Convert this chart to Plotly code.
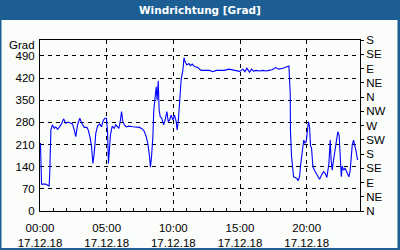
import plotly.graph_objects as go
from datetime import datetime, timedelta

# minutes after midnight, 17.12.18
minutes = [2, 4, 7, 26, 41, 44, 49, 56, 64, 71, 79, 86, 97, 106, 116, 127, 139, 146, 154, 161,
           169, 179, 188, 199, 211, 217, 226, 232, 238, 244, 251, 259, 269, 277, 284, 292, 299, 304, 308, 313,
           317, 325, 334, 341, 349, 355, 361, 367, 373, 380, 388, 400, 418, 433, 448, 463, 470, 478, 485, 493,
           497, 502, 508, 512, 518, 523, 527, 532, 536, 541, 548, 556, 563, 571, 577, 583, 590, 598, 605, 613,
           617, 622, 628, 635, 643, 648, 653, 661, 670, 677, 685, 695, 710, 725, 748, 763, 778, 793, 808, 830,
           850, 868, 883, 898, 913, 922, 931, 943, 952, 961, 973, 988, 1003, 1018, 1030, 1045, 1060, 1075, 1093, 1108,
           1120, 1126, 1127, 1132, 1135, 1141, 1150, 1156, 1162, 1168, 1172, 1177, 1183, 1187, 1192, 1198, 1202, 1208, 1213, 1217,
           1222, 1228, 1235, 1246, 1258, 1267, 1276, 1283, 1291, 1300, 1306, 1310, 1315, 1321, 1327, 1333, 1340, 1346, 1351, 1356,
           1360, 1366, 1373, 1382, 1390, 1396, 1401, 1405, 1411, 1417, 1423, 1429]
direction = [215, 127, 85, 85, 78, 121, 256, 272, 261, 266, 258, 264, 275, 291, 277, 281, 277, 275, 256, 235,
             272, 293, 277, 264, 264, 256, 230, 203, 150, 182, 245, 268, 275, 266, 285, 293, 293, 250, 150, 187,
             240, 268, 261, 272, 264, 261, 282, 314, 282, 272, 266, 268, 266, 266, 264, 258, 250, 235, 214, 172,
             138, 172, 235, 319, 372, 392, 350, 411, 319, 298, 293, 272, 287, 314, 282, 287, 303, 287, 303, 282,
             256, 282, 340, 414, 445, 484, 471, 461, 466, 459, 464, 456, 453, 444, 444, 444, 440, 444, 444, 444,
             448, 446, 444, 441, 448, 440, 451, 438, 448, 442, 444, 442, 444, 442, 444, 446, 453, 448, 451, 456,
             458, 372, 256, 172, 140, 108, 105, 103, 96, 108, 140, 177, 203, 224, 214, 219, 240, 282, 266, 208,
             198, 140, 129, 117, 100, 114, 124, 119, 106, 150, 224, 161, 129, 161, 193, 230, 250, 240, 182, 108,
             142, 129, 135, 119, 108, 129, 172, 208, 224, 208, 187, 161]

left_ticks = [0, 70, 140, 210, 280, 350, 420, 490]
right_ticks = [0, 45, 90, 135, 180, 225, 270, 315, 360, 405, 450, 495, 540]
right_labels = ["N", "NE", "E", "SE", "S", "SW", "W", "NW", "N", "NE", "E", "SE", "S"]
x_tick_hours = [0, 5, 10, 15, 20]
x_tick_labels = ["00:00<br>17.12.18", "05:00<br>17.12.18", "10:00<br>17.12.18",
                 "15:00<br>17.12.18", "20:00<br>17.12.18"]

base = datetime(2018, 12, 17)
times = [base + timedelta(minutes=m) for m in minutes]

BLUE = "#1d5f94"
BG = "#fbfdfb"
FONT = "Liberation Sans"

fig = go.Figure()
fig.add_trace(go.Scatter(x=times, y=direction, mode="lines",
                         line=dict(color="#0000ff", width=1.1), showlegend=False))
# invisible trace for right axis
fig.add_trace(go.Scatter(x=[times[0]], y=[0], yaxis="y2", mode="lines",
                         line=dict(width=0), showlegend=False, hoverinfo="skip"))

L, R, T, B = 40.5, 360.5, 40, 211
W, H = 400, 250
pw, ph = R - L, B - T

fig.add_shape(type="rect", xref="paper", yref="paper", layer="below",
              x0=(2 - L) / pw, x1=(398 - L) / pw,
              y0=(B - 248) / ph, y1=(B - 20) / ph,
              fillcolor=BG, line=dict(width=0))
fig.add_shape(type="rect", xref="paper", yref="paper", layer="below",
              x0=(0 - L) / pw, x1=(400 - L) / pw,
              y0=(B - 20) / ph, y1=(B - 0) / ph,
              fillcolor=BLUE, line=dict(width=0))

fig.add_annotation(text="<b>Windrichtung [Grad]</b>", xref="paper", yref="paper",
                   x=(200 - L) / pw, y=(B - 10.5) / ph, showarrow=False,
                   font=dict(family="DejaVu Sans", size=10.5, color="white"),
                   xanchor="center", yanchor="middle")
fig.add_annotation(text="Grad", xref="paper", yref="paper",
                   x=(37 - L) / pw, y=(B - 45) / ph, showarrow=False,
                   font=dict(family=FONT, size=11.5, color="black"),
                   xanchor="right", yanchor="middle")

fig.update_layout(
    width=W, height=H,
    margin=dict(l=40, r=40, t=T, b=H - B, pad=0, autoexpand=False),
    paper_bgcolor=BLUE, plot_bgcolor=BG,
    font=dict(family=FONT, size=11.5, color="black"),
    xaxis=dict(
        type="date", automargin=False,
        range=[base, base + timedelta(hours=24)],
        tickvals=[base + timedelta(hours=h) for h in x_tick_hours],
        ticktext=x_tick_labels,
        ticks="inside", ticklen=3, tickcolor="black",
        minor=dict(dtick=3600000, ticks="inside", ticklen=3, tickcolor="black", showgrid=False),
        showgrid=True, gridcolor="black", griddash="4px,4px", gridwidth=1,
        showline=True, linecolor="black", linewidth=1, mirror=True,
        zeroline=False, tickangle=0, ticklabelstandoff=6,
    ),
    yaxis=dict(
        range=[0, 540], tickvals=left_ticks, automargin=False,
        ticks="", showgrid=True, gridcolor="black", griddash="4px,4px", gridwidth=1,
        showline=True, linecolor="black", linewidth=1, mirror=True,
        zeroline=False, ticklabelstandoff=2,
    ),
    yaxis2=dict(
        range=[0, 540], tickvals=right_ticks, ticktext=right_labels, automargin=False,
        overlaying="y", side="right", showgrid=False, zeroline=False,
        ticks="outside", ticklen=3, tickcolor="black",
        showline=True, linecolor="black", linewidth=1,
    ),
)

fig.write_html("out.html")
